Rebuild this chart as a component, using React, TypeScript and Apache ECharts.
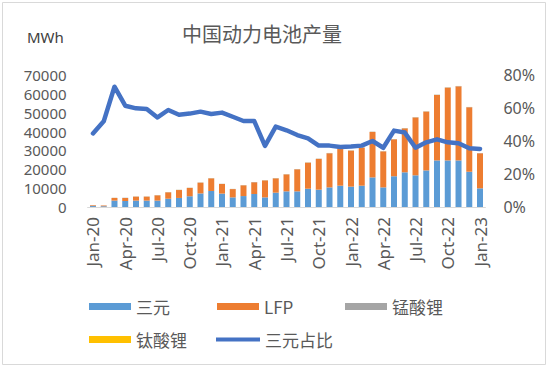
import React, { useEffect, useRef } from "react";
import * as echarts from "echarts";

const categories = [
  "Jan-20", "Feb-20", "Mar-20", "Apr-20", "May-20", "Jun-20", "Jul-20", "Aug-20", "Sep-20", "Oct-20", "Nov-20", "Dec-20",
  "Jan-21", "Feb-21", "Mar-21", "Apr-21", "May-21", "Jun-21", "Jul-21", "Aug-21", "Sep-21", "Oct-21", "Nov-21", "Dec-21",
  "Jan-22", "Feb-22", "Mar-22", "Apr-22", "May-22", "Jun-22", "Jul-22", "Aug-22", "Sep-22", "Oct-22", "Nov-22", "Dec-22",
  "Jan-23",
];

const ncm = [
  500, 400, 3400, 3200, 3400, 3400, 3400, 4400, 4800, 5700, 7200, 8500,
  7100, 5100, 5800, 6900, 5100, 7600, 8300, 8300, 9700, 9200, 10400, 11300,
  10800, 11300, 15700, 10400, 16300, 18400, 16800, 19400, 24700, 24700, 24700, 18700,
  9900,
];

const lfp = [
  400, 400, 1400, 1600, 2100, 2100, 2800, 3400, 4200, 4400, 5700, 6700,
  5100, 4400, 5700, 6200, 9000, 7600, 9000, 11700, 13800, 16300, 18100, 19800,
  19100, 20200, 24100, 19100, 19600, 23300, 30700, 31200, 34700, 38600, 39300, 34200,
  18600,
];

const lmo = [
  60, 40, 80, 80, 90, 90, 100, 100, 110, 110, 120, 120,
  100, 90, 100, 110, 110, 120, 120, 130, 130, 130, 140, 140,
  130, 130, 140, 120, 130, 140, 150, 150, 160, 160, 160, 140,
  120,
];

const lto = [
  10, 10, 20, 20, 20, 20, 20, 20, 30, 30, 30, 30,
  20, 20, 20, 30, 30, 30, 30, 30, 30, 30, 30, 30,
  30, 30, 30, 20, 30, 30, 30, 30, 30, 30, 30, 30,
  20,
];

const ncmShare = [
  0.446, 0.519, 0.729, 0.614, 0.598, 0.594, 0.543, 0.588, 0.559, 0.566, 0.578, 0.564,
  0.572, 0.547, 0.521, 0.521, 0.370, 0.487, 0.465, 0.436, 0.416, 0.372, 0.372, 0.364,
  0.366, 0.372, 0.400, 0.359, 0.463, 0.451, 0.359, 0.392, 0.410, 0.392, 0.386, 0.356,
  0.352,
];

const leftTicks = [0, 70000, 10000];
const rightTicks = [0, 0.8, 0.2];

const TXT = "#595959";
const FONT = "'Noto Sans', 'Noto Sans CJK SC', sans-serif";
const CJK = "'Noto Sans CJK SC', sans-serif";

export default function App() {
  const ref = useRef<HTMLDivElement>(null);
  useEffect(() => {
    if (!ref.current) return;
    const chart = echarts.init(ref.current, undefined, { renderer: "svg" });
    const legendBase = (name: string, left: number, top: number, line = false) => ({
      left,
      top,
      padding: 0,
      data: [{ name, icon: "rect" }],
      itemWidth: line ? 44 : 42,
      itemHeight: line ? 4 : 7,
      selectedMode: false,
      textStyle: { color: TXT, fontSize: 17, fontFamily: CJK },
    });
    chart.setOption({
      animation: false,
      backgroundColor: "#ffffff",
      graphic: [
        {
          type: "rect",
          shape: { x: 2.5, y: 2.5, width: 543, height: 362 },
          style: { fill: "none", stroke: "#d9d9d9", lineWidth: 1 },
          silent: true,
        },
        {
          type: "text",
          x: 262,
          y: 33,
          style: {
            text: "中国动力电池产量",
            fill: TXT,
            font: `20px ${CJK}`,
            textAlign: "center",
            textVerticalAlign: "middle",
          },
        },
        {
          type: "text",
          x: 27,
          y: 37,
          style: {
            text: "MWh",
            fill: "#404040",
            font: `15px ${FONT}`,
            textAlign: "left",
            textVerticalAlign: "middle",
          },
        },
      ],
      legend: [
        legendBase("三元", 89, 298),
        legendBase("LFP", 217, 298),
        legendBase("锰酸锂", 345, 298),
        legendBase("钛酸锂", 89, 331),
        legendBase("三元占比", 216, 331, true),
      ],
      grid: { left: 87.6, right: 64.6, top: 75, bottom: 161, containLabel: false },
      xAxis: {
        type: "category",
        data: categories,
        boundaryGap: true,
        axisLine: { lineStyle: { color: "#d9d9d9", width: 1 } },
        axisTick: { interval: 2, length: 5, lineStyle: { color: "#d9d9d9" } },
        axisLabel: {
          interval: 2,
          rotate: 90,
          margin: 10,
          color: TXT,
          fontSize: 17,
          fontFamily: FONT,
        },
        splitLine: { show: false },
      },
      yAxis: [
        {
          type: "value",
          min: leftTicks[0],
          max: leftTicks[1],
          interval: leftTicks[2],
          axisLine: { show: false },
          axisTick: { show: false },
          splitLine: { show: false },
          axisLabel: {
            color: TXT,
            fontSize: 15,
            lineHeight: 16,
            fontFamily: FONT,
            margin: 21,
            formatter: (v: number) => String(v),
          },
        },
        {
          type: "value",
          min: rightTicks[0],
          max: rightTicks[1],
          interval: rightTicks[2],
          axisLine: { show: false },
          axisTick: { show: false },
          splitLine: { show: false },
          axisLabel: {
            color: TXT,
            fontSize: 16,
            lineHeight: 16,
            fontFamily: FONT,
            margin: 18,
            formatter: (v: number) => `${Math.round(v * 100)}%`,
          },
        },
      ],
      series: [
        { name: "三元", type: "bar", stack: "t", data: ncm, barWidth: 6, itemStyle: { color: "#5B9BD5" } },
        { name: "LFP", type: "bar", stack: "t", data: lfp, barWidth: 6, itemStyle: { color: "#ED7D31" } },
        { name: "锰酸锂", type: "bar", stack: "t", data: lmo, barWidth: 6, itemStyle: { color: "#A5A5A5" } },
        { name: "钛酸锂", type: "bar", stack: "t", data: lto, barWidth: 6, itemStyle: { color: "#FFC000" } },
        {
          name: "三元占比",
          type: "line",
          yAxisIndex: 1,
          data: ncmShare,
          showSymbol: false,
          symbol: "none",
          z: 5,
          lineStyle: { color: "#4472C4", width: 4.5, cap: "round", join: "round" },
          itemStyle: { color: "#4472C4" },
        },
      ],
    });
    return () => chart.dispose();
  }, []);
  return (
    <div
      ref={ref}
      style={{ position: "fixed", left: 0, top: 0, width: 550, height: 368 }}
    />
  );
}
